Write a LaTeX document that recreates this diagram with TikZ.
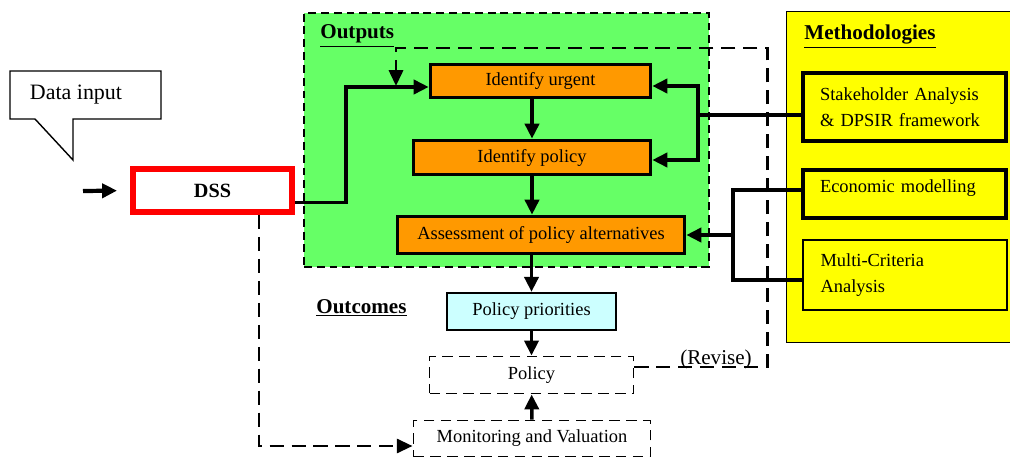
\documentclass[tikz,border=0pt]{standalone}
\usepackage{fontspec}
\setmainfont{Liberation Serif}
\usepackage{xcolor}
\usetikzlibrary{arrows.meta, positioning, calc}
\definecolor{outgreen}{HTML}{66FF66}
\definecolor{taskorange}{HTML}{FF9900}
\definecolor{methyellow}{HTML}{FFFF00}
\definecolor{priocyan}{HTML}{CCFFFF}

\begin{document}
\begin{tikzpicture}[
    x=0.02cm, y=-0.02cm,
    every node/.style={font=\fontsize{10.5}{15}\selectfont},
    heading/.style={font=\fontsize{12}{14}\selectfont\bfseries, anchor=base west, inner sep=0pt},
    frame/.style={rectangle, draw, anchor=north west, inner sep=0pt},
    task/.style={rectangle, draw, line width=2.1pt, fill=taskorange, align=center},
    method/.style={rectangle, draw, line width=2.5pt, fill=methyellow, minimum width=4.06cm, text width=3.38cm, inner xsep=0.34cm, align=left},
    outcome/.style={rectangle, draw, line width=1.1pt, dash pattern=on 6pt off 3.6pt, minimum height=0.74cm},
    arrow/.style={-{Triangle[length=8.5pt,width=8pt]}, line width=2pt},
    dasharrow/.style={-{Triangle[length=9pt,width=8pt]}, line width=1.7pt, dash pattern=on 8pt off 4.5pt},
    link/.style={line width=2pt}
]
    \useasboundingbox (0,0) rectangle (1010,459);
    \clip (0,0) rectangle (1010,459);

    \node[frame, fill=outgreen, line width=1pt, dash pattern=on 4.5pt off 2.8pt, minimum width=8.1cm, minimum height=5.08cm] (outbox) at (303,12) {};
    \node[frame, fill=methyellow, line width=0.8pt, minimum width=5cm, minimum height=6.62cm] (methbox) at (786,11) {};
    \node[heading] (outputs) at (320,39) {\underline{Outputs}};
    \node[heading] (methods) at (804,40) {\underline{Methodologies}};
    \node[heading] (outcomes) at (316,313) {\underline{Outcomes}};

    \draw[line width=0.8pt, fill=white] (10,71) -- (161,71) -- (161,119) -- (73,119) -- (73,160) -- (35,119) -- (10,119) -- cycle;
    \node[font=\fontsize{12.5}{14}\selectfont] (datain) at (76,95) {Data input};
    \node[rectangle, draw=red, line width=3.4pt, fill=white, minimum width=3.18cm, minimum height=0.86cm, font=\fontsize{11.5}{14}\selectfont\bfseries] (dss) at (212.5,190.5) {DSS};

    \node[task, minimum width=4.4cm, minimum height=0.66cm] (urgent) at (540.5,81) {Identify urgent};
    \node[task, minimum width=4.74cm, minimum height=0.68cm] (idpol) at (532,157.5) {Identify policy};
    \node[task, minimum width=5.74cm, minimum height=0.74cm] (assess) at (541,235) {Assessment of policy alternatives};

    \node[rectangle, draw, line width=1.3pt, fill=priocyan, minimum width=3.38cm, minimum height=0.74cm] (prio) at (531.5,311.5) {Policy priorities};
    \node[outcome, minimum width=4.08cm] (pol) at (531.5,375) {Policy};
    \node[outcome, minimum width=4.74cm, minimum height=0.72cm] (mon) at (532,438.5) {Monitoring and Valuation};

    \node[method, minimum height=1.36cm] (stake) at (904.5,107) {Stakeholder Analysis\\\& DPSIR framework};
    \node[method, minimum height=0.96cm, text depth=0.3cm] (econ) at (904.5,194) {Economic modelling};
    \node[method, line width=1.6pt, minimum width=4.08cm, minimum height=1.4cm] (mca) at (905,275) {Multi-Criteria\\Analysis};
    \node[font=\fontsize{12}{14}\selectfont, anchor=base] (revise) at (716,364) {(Revise)};

    \coordinate (inarrow) at (83,191);
    \coordinate (knee) at (346,87);
    \coordinate (sj) at (698,115);
    \coordinate (ej) at (733,235);
    \coordinate (rv) at (767,48);
    \coordinate (rvtip) at (396,86);
    \coordinate (dk) at (259,446);

    \draw[arrow, line width=2.4pt, shorten >=0.26cm] (inarrow) -- (dss.west);
    \draw[arrow] ($(dss.east)+(0,12)$) -| (knee) -- (urgent.west |- knee);
    \draw[arrow] (urgent.south -| idpol.north) -- (idpol.north);
    \draw[arrow] (idpol.south) -- (assess.north -| idpol.south);
    \draw[arrow] (assess.south -| prio.north) -- (prio.north);
    \draw[arrow] (prio) -- (pol);
    \draw[arrow] (mon) -- (pol);

    \draw[link] (stake.west |- sj) -- (sj);
    \draw[arrow] (sj) |- ($(urgent.east)+(0,5)$);
    \draw[arrow] (sj) |- ($(idpol.east)+(0,2.5)$);
    \draw[link] ($(econ.west)+(0,-4)$) -| (ej) |- ($(mca.west)+(0,5)$);
    \draw[arrow] (ej) -- (assess.east |- ej);

    \draw[dasharrow] ($(pol.east)+(0,-8)$) -| (rv) -| (rvtip);
    \draw[dasharrow] (dss.south -| dk) -- (dk) -- (mon.west |- dk);
\end{tikzpicture}
\end{document}
